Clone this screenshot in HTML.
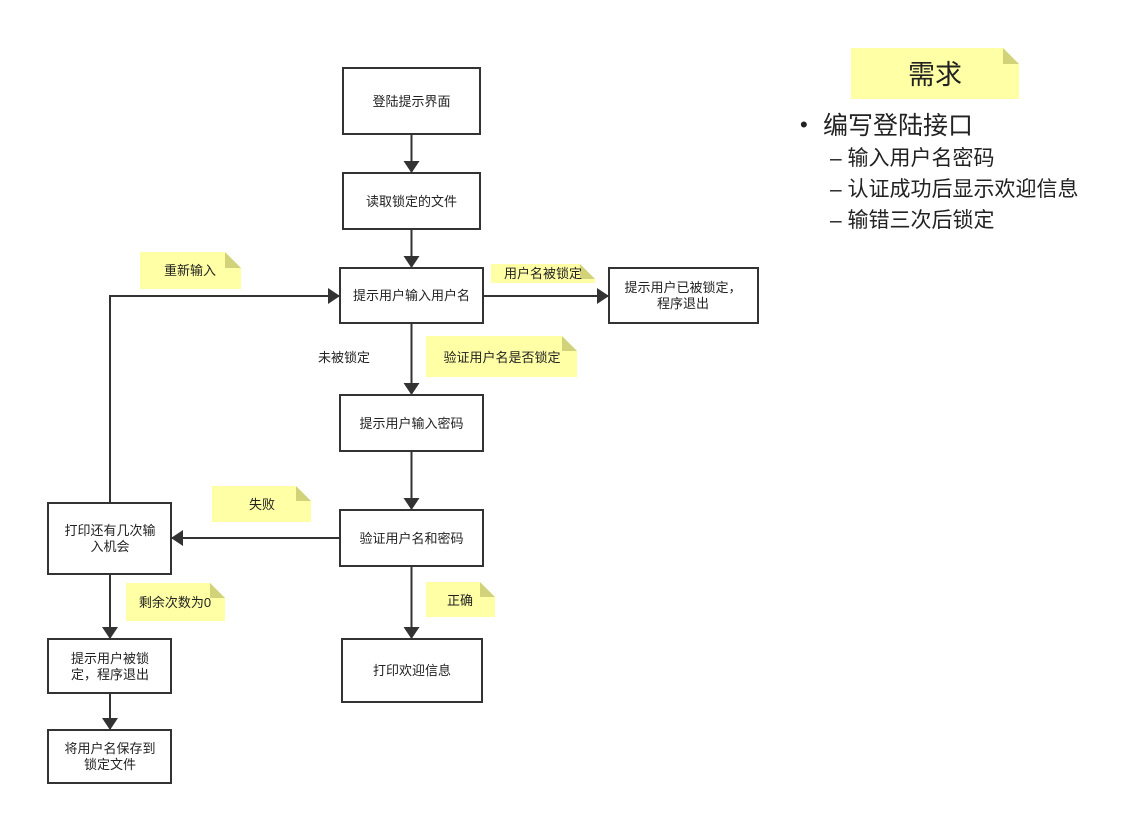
<!DOCTYPE html>
<html><head><meta charset="utf-8"><style>
body{margin:0;background:#fff;width:1141px;height:815px;overflow:hidden}
svg text{font-family:"Liberation Sans","Noto Sans CJK SC",sans-serif;fill:#222}
</style></head><body>
<svg width="1141" height="815" viewBox="0 0 1141 815" xmlns="http://www.w3.org/2000/svg">
<defs><marker id="a" markerWidth="10" markerHeight="10" refX="9" refY="5" orient="auto" markerUnits="userSpaceOnUse"><path d="M0,0 L10,5 L0,10 Z" fill="#333"/></marker>
<marker id="b" markerWidth="12" markerHeight="16" refX="11" refY="8" orient="auto" markerUnits="userSpaceOnUse"><path d="M0,0 L12,8 L0,16 Z" fill="#333"/></marker></defs>
<g fill="#ffffa6">
<path d="M140,252 H225 L241,268 V289 H140 Z"/><path d="M225,252 V268 H241 Z" fill="#d2d27a"/>
<path d="M491,264 H580 L595,279 V283 H491 Z"/><path d="M580,264 V279 H595 Z" fill="#d2d27a"/>
<path d="M426,336 H562 L577,351 V377 H426 Z"/><path d="M562,336 V351 H577 Z" fill="#d2d27a"/>
<path d="M212,486 H296 L311,501 V522 H212 Z"/><path d="M296,486 V501 H311 Z" fill="#d2d27a"/>
<path d="M126,583 H210 L225,598 V621 H126 Z"/><path d="M210,583 V598 H225 Z" fill="#d2d27a"/>
<path d="M426,582 H480 L495,597 V617 H426 Z"/><path d="M480,582 V597 H495 Z" fill="#d2d27a"/>
<path d="M851,48 H1003 L1019,64 V99 H851 Z"/><path d="M1003,48 V64 H1019 Z" fill="#d2d27a"/>
</g>
<g fill="none" stroke="#333" stroke-width="2">
<line x1="411.5" y1="134" x2="411.5" y2="172" marker-end="url(#b)"/>
<line x1="411.5" y1="229" x2="411.5" y2="267" marker-end="url(#b)"/>
<line x1="483" y1="296" x2="608" y2="296" marker-end="url(#b)"/>
<line x1="411.5" y1="323" x2="411.5" y2="394" marker-end="url(#b)"/>
<line x1="411.5" y1="451" x2="411.5" y2="509" marker-end="url(#b)"/>
<line x1="411.5" y1="566" x2="411.5" y2="638" marker-end="url(#b)"/>
<line x1="340" y1="538" x2="172" y2="538" marker-end="url(#b)"/>
<polyline points="110,503 110,296 339,296" marker-end="url(#b)"/>
<line x1="110" y1="574" x2="110" y2="638" marker-end="url(#b)"/>
<line x1="110" y1="693" x2="110" y2="729" marker-end="url(#b)"/>
<rect x="343" y="68" width="137" height="66"/>
<rect x="343" y="173" width="137" height="56"/>
<rect x="340" y="268" width="143" height="55"/>
<rect x="609" y="268" width="149" height="55"/>
<rect x="340" y="395" width="143" height="56"/>
<rect x="340" y="510" width="143" height="56"/>
<rect x="48" y="503" width="123" height="71"/>
<rect x="342" y="639" width="140" height="63"/>
<rect x="48" y="639" width="123" height="54"/>
<rect x="48" y="730" width="123" height="53"/>
</g>
<g font-size="13" text-anchor="middle">
<text x="411.5" y="106">登陆提示界面</text>
<text x="411.5" y="206">读取锁定的文件</text>
<text x="411.5" y="300">提示用户输入用户名</text>
<text x="683" y="292">提示用户已被锁定，</text>
<text x="683" y="308">程序退出</text>
<text x="411.5" y="428">提示用户输入密码</text>
<text x="411.5" y="543">验证用户名和密码</text>
<text x="110" y="535">打印还有几次输</text>
<text x="110" y="551">入机会</text>
<text x="412" y="675">打印欢迎信息</text>
<text x="110" y="663">提示用户被锁</text>
<text x="110" y="679">定，程序退出</text>
<text x="110" y="753">将用户名保存到</text>
<text x="110" y="769">锁定文件</text>
<text x="190" y="275">重新输入</text>
<text x="543" y="278">用户名被锁定</text>
<text x="502" y="362">验证用户名是否锁定</text>
<text x="262" y="509">失败</text>
<text x="175" y="607">剩余次数为0</text>
<text x="460" y="605">正确</text>
<text x="344" y="362">未被锁定</text>
</g>
<text x="935" y="84" font-size="27" text-anchor="middle">需求</text>
<text x="800" y="132" font-size="22">•</text>
<text x="823" y="134" font-size="25">编写登陆接口</text>
<g font-size="21">
<text x="830" y="165">– 输入用户名密码</text>
<text x="830" y="196">– 认证成功后显示欢迎信息</text>
<text x="830" y="227">– 输错三次后锁定</text>
</g>
</svg>
</body></html>
